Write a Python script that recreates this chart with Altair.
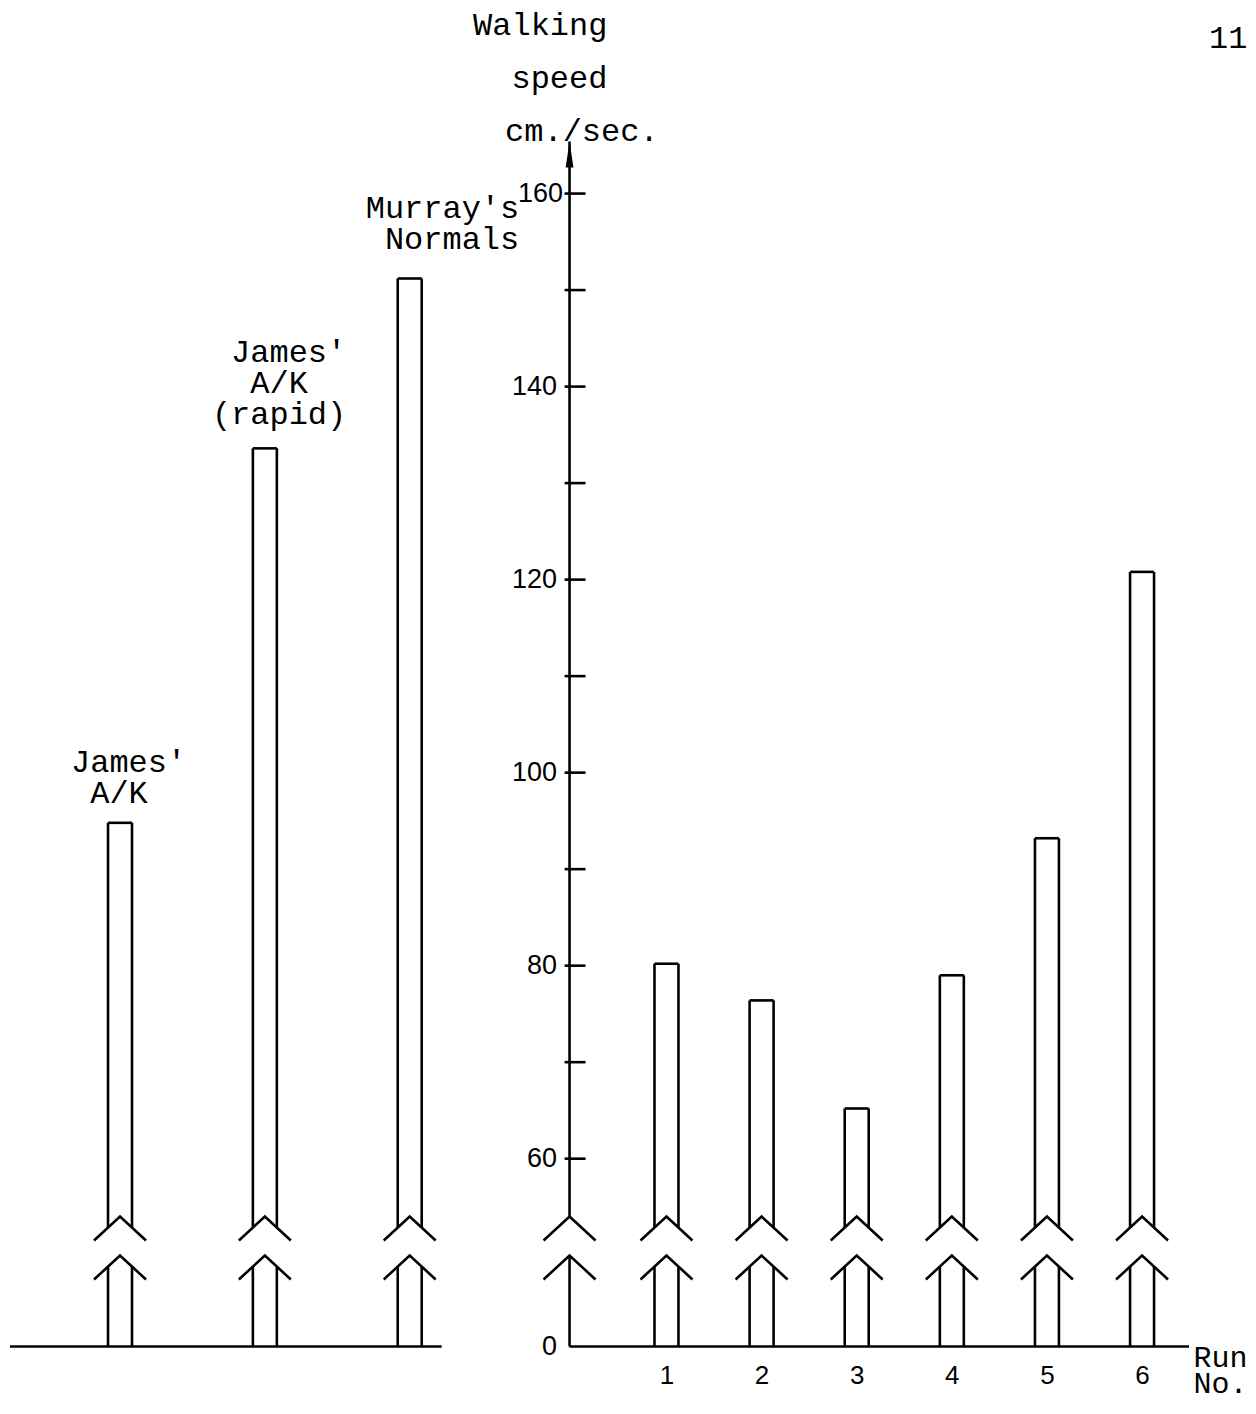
import altair as alt
import pandas as pd

# ---------------- data ----------------
ZW = "\u200b"      # keeps the typewriter indentation from being trimmed
NB = "\u00a0"
LEFT_GROUPS = ["James' A/K", "James' A/K (rapid)", "Murray's Normals"]
LEFT_LABEL_LINES = [
    ["James'", ZW + NB + "A/K"],
    [ZW + NB + "James'", ZW + NB + NB + "A/K", "(rapid)"],
    ["Murray's", ZW + NB + "Normals"],
]
LEFT_SPEEDS = [94.8, 133.6, 151.2]

RUNS = [1, 2, 3, 4, 5, 6]
RUN_SPEEDS = [80.2, 76.4, 65.2, 79.0, 93.2, 120.8]

Y_LABELS = [0, 60, 80, 100, 120, 140, 160]
Y_TICKS = [60, 70, 80, 90, 100, 110, 120, 130, 140, 150, 160]
Y_TITLE = ["Walking", ZW + NB + NB + "speed", ZW + NB + "\u2009\u2009cm./sec."]
X_TITLE = ["Run", "No."]
PAGE_NO = "11"

Y_TOP = 165.4      # top of the drawn axis (arrow tip)
BREAK_HI = 54      # upper chevron of the broken axis
BREAK_LO = 50      # lower chevron of the broken axis

# ---------------- layout / style ----------------
H = 1206
WL = 432
WR = 620
GAP = 128
HALF = 12          # half bar width in px
LW = 2.6
TYPE_FONT = "Liberation Mono"
NUM_FONT = "Liberation Sans"
TYPE_SIZE = 32
LINE_H = 31
LABEL_GAPS = [20, 24, 30]
LABEL_DX = [-49, -53, -44]
CHEV = "M-1,0.92L0,0L1,0.92"
CHEV_SIZE = 2704
ARROW = "M0,0L-0.15,1L0.15,1Z"

yscale = alt.Scale(domain=[0, BREAK_LO, BREAK_HI, Y_TOP],
                   range=[H, H - 91, H - 130, 0], nice=False, zero=False)
xscale_r = alt.Scale(domain=[-0.019, 6.494], nice=False, zero=False)
xscale_l = alt.Scale(type="point", domain=LEFT_GROUPS, padding=0.49, align=0.775)

rule_style = dict(color="black", strokeWidth=LW)
chev_style = dict(shape=CHEV, size=CHEV_SIZE, filled=False, stroke="black",
                  strokeWidth=LW, opacity=1)

x_axis = alt.Axis(values=RUNS, format="d", domain=False, ticks=False, grid=False,
                  labelPadding=16, labelFont=NUM_FONT, labelFontSize=26,
                  labelColor="black", title=X_TITLE, titleX=624, titleY=20,
                  titleAlign="left", titleAngle=0, titleBaseline="alphabetic",
                  titleFont=TYPE_FONT, titleFontSize=30, titleFontWeight="normal",
                  titleLineHeight=26, titleColor="black")
y_axis = alt.Axis(values=Y_LABELS, domain=False, ticks=False, grid=False,
                  labelPadding={"condition": {"test": "datum.value == 160", "value": 7},
                                "value": 13},
                  labelFont=NUM_FONT, labelFontSize=27,
                  labelColor="black", title=Y_TITLE, titleX=-97, titleY=-107,
                  titleAlign="left", titleAngle=0, titleBaseline="alphabetic",
                  titleFont=TYPE_FONT, titleFontSize=TYPE_SIZE, titleFontWeight="normal",
                  titleLineHeight=53, titleColor="black")

runs = pd.DataFrame({"run": RUNS, "speed": RUN_SPEEDS})
left = pd.DataFrame({"group": LEFT_GROUPS, "speed": LEFT_SPEEDS, "label": LEFT_LABEL_LINES})
ticks_df = pd.DataFrame({"v": Y_TICKS})
breaks_df = pd.DataFrame({"b": [BREAK_HI, BREAK_LO]})
one = pd.DataFrame({"k": [0]})


def make_enc(yaxis, xscale, xaxis):
    def Y(field):
        return alt.Y(field, scale=yscale, axis=yaxis)

    def YD(v):
        return alt.Y(datum=v, scale=yscale, axis=yaxis)

    def X(field):
        return alt.X(field, scale=xscale, axis=xaxis)
    return Y, YD, X


def bar_layers(df, xfield, Y, YD, X):
    layers = []
    for off in (-HALF, HALF):
        layers.append(alt.Chart(df).mark_rule(xOffset=off, y2Offset=11, **rule_style).encode(
            x=X(xfield), y=Y("speed:Q"), y2=alt.Y2(datum=BREAK_HI)))
        layers.append(alt.Chart(df).mark_rule(xOffset=off, yOffset=11, **rule_style).encode(
            x=X(xfield), y=YD(BREAK_LO), y2=alt.Y2(datum=0)))
    layers.append(alt.Chart(df).mark_rule(xOffset=-HALF, x2Offset=HALF, **rule_style).encode(
        x=X(xfield), x2=alt.X2(xfield.split(":")[0]), y=Y("speed:Q")))
    for b in (BREAK_HI, BREAK_LO):
        layers.append(alt.Chart(df).mark_point(**chev_style).encode(x=X(xfield), y=YD(b)))
    return layers


# ---------------- left panel ----------------
LY, LYD, LX = make_enc(None, xscale_l, None)
left_layers = [
    alt.Chart(one).mark_rule(**rule_style).encode(
        x=alt.value(0), x2=alt.value(WL), y=LYD(0)),
]
left_layers += bar_layers(left, "group:N", LY, LYD, LX)
for g, lines, gap, ddx in zip(LEFT_GROUPS, LEFT_LABEL_LINES, LABEL_GAPS, LABEL_DX):
    left_layers.append(
        alt.Chart(left).transform_filter(alt.datum.group == g).mark_text(
            align="left", baseline="alphabetic", dx=ddx,
            dy=-gap - (len(lines) - 1) * LINE_H,
            font=TYPE_FONT, fontSize=TYPE_SIZE, lineHeight=LINE_H,
            color="black").encode(x=LX("group:N"), y=LY("speed:Q"), text="label"))
left_chart = alt.layer(*left_layers).properties(width=WL, height=H)

# ---------------- right panel ----------------
RY, RYD, RX = make_enc(y_axis, xscale_r, x_axis)
right_layers = [
    # axis line (broken)
    alt.Chart(one).mark_rule(**rule_style).encode(
        x=alt.value(0), y=RYD(Y_TOP), y2=alt.Y2(datum=BREAK_HI)),
    alt.Chart(one).mark_rule(**rule_style).encode(
        x=alt.value(0), y=RYD(BREAK_LO), y2=alt.Y2(datum=0)),
    # arrow head
    alt.Chart(one).mark_point(shape=ARROW, size=2704, filled=True, color="black",
                              opacity=1).encode(x=alt.value(0), y=RYD(Y_TOP)),
    # axis break chevrons
    alt.Chart(breaks_df).mark_point(**chev_style).encode(
        x=alt.value(0), y=RY("b:Q")),
    # ticks (labels come from the axis)
    alt.Chart(ticks_df).mark_rule(**rule_style).encode(
        x=alt.value(-5), x2=alt.value(16), y=RY("v:Q")),
    # baseline
    alt.Chart(one).mark_rule(**rule_style).encode(
        x=alt.value(0), x2=alt.value(WR), y=RYD(0)),
    # page number
    alt.Chart(one).mark_text(align="left", baseline="alphabetic", font=TYPE_FONT,
                             fontSize=TYPE_SIZE, color="black").encode(
        x=alt.value(640), y=alt.value(-94), text=alt.value(PAGE_NO)),
]
right_layers += bar_layers(runs, "run:Q", RY, RYD, RX)
right_chart = alt.layer(*right_layers).properties(width=WR, height=H)

chart = alt.hconcat(left_chart, right_chart, spacing=GAP, bounds="flush").properties(
    padding=0).configure_view(stroke=None)

chart.save("out.html", embed_options={"renderer": "svg", "actions": False})
